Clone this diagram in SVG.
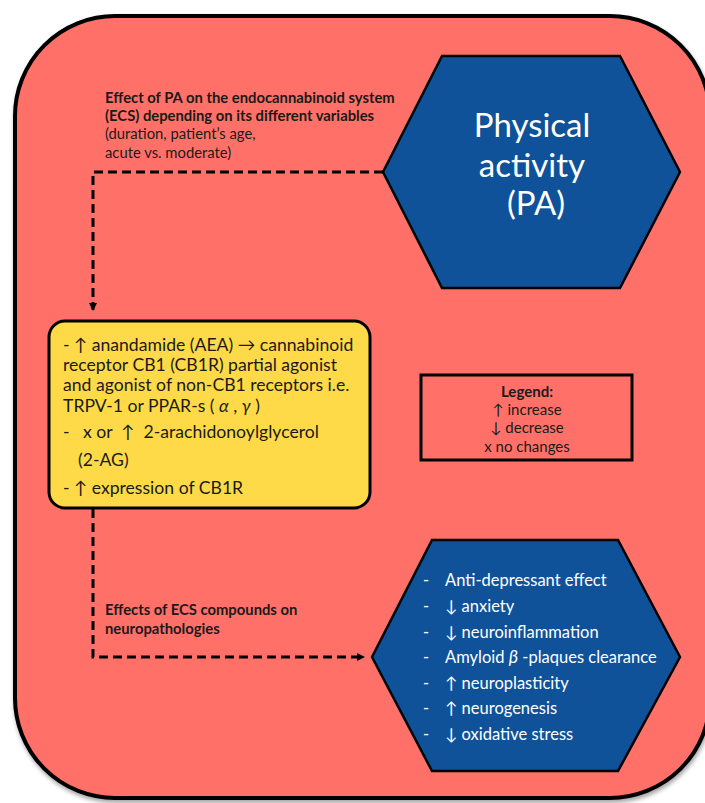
<svg xmlns="http://www.w3.org/2000/svg" width="705" height="803" viewBox="0 0 705 803">
<style>
text{font-family:Lato,"Open Sans","DejaVu Sans",sans-serif}
.lbl{font-size:14.8px;font-weight:bold;fill:#1a1a1a}
.lblr{font-size:14.8px;fill:#1a1a1a}
.hexw{fill:#ffffff}
.yt{font-size:17.6px;fill:#1a1a1a}
.leg{font-size:15px;fill:#1a1a1a;text-anchor:middle}
.bt{font-size:16.5px;fill:#ffffff}
.conn{fill:none;stroke:#000;stroke-width:3;stroke-dasharray:9 5}
.hex{fill:#0F5299;stroke:#000;stroke-width:2.5}
</style>
<defs>
<marker id="ah" markerWidth="8" markerHeight="8" refX="7" refY="4" orient="auto" markerUnits="userSpaceOnUse">
<path d="M0,0 L8,4 L0,8 Z" fill="#000"/>
</marker>
<filter id="sh" x="-5%" y="-5%" width="110%" height="110%">
<feDropShadow dx="1" dy="3" stdDeviation="2" flood-color="#000" flood-opacity="0.35"/>
</filter>
</defs>
<g id="background">
<rect x="15" y="16" width="695" height="782" rx="100" ry="100" fill="#FF7168" stroke="#000" stroke-width="4" filter="url(#sh)"/>
</g>
<g id="connectors">
<path class="conn" d="M383,172 H93 V310" marker-end="url(#ah)"/>
<path class="conn" d="M93,509 V657 H364" marker-end="url(#ah)"/>
</g>
<g id="label-top">
<text class="lbl" x="105" y="103">Effect of PA on the endocannabinoid system</text>
<text class="lbl" x="105" y="121">(ECS) depending on its different variables</text>
<text class="lblr" x="105" y="139">(duration, patient’s age,</text>
<text class="lblr" x="105" y="158">acute vs. moderate)</text>
</g>
<g id="label-bottom">
<text class="lbl" x="105" y="615">Effects of ECS compounds on</text>
<text class="lbl" x="105" y="634">neuropathologies</text>
</g>
<g id="pa">
<polygon class="hex" points="442,56 620,56 680,172 620,288 442,288 383,172"/>
<text class="hexw" x="532" y="137" font-size="33" text-anchor="middle">Physical</text>
<text class="hexw" x="532" y="177" font-size="33" text-anchor="middle">activity</text>
<text class="hexw" x="536" y="215" font-size="33" text-anchor="middle">(PA)</text>
</g>
<g id="ecs">
<rect x="49" y="321" width="321" height="187" rx="16" ry="16" fill="#FEDA48" stroke="#000" stroke-width="3"/>
<text class="yt" x="63" y="351">- ↑ anandamide (AEA) → cannabinoid</text>
<text class="yt" x="63" y="371">receptor CB1 (CB1R) partial agonist</text>
<text class="yt" x="63" y="391">and agonist of non-CB1 receptors i.e.</text>
<text class="yt" x="63" y="412">TRPV-1 or PPAR-s ( <tspan font-style="italic">α</tspan> , <tspan font-style="italic">γ</tspan> )</text>
<text class="yt" x="63" y="438" xml:space="preserve">-   x or  ↑  2-arachidonoylglycerol</text>
<text class="yt" x="78" y="466">(2-AG)</text>
<text class="yt" x="63" y="494">- ↑ expression of CB1R</text>
</g>
<g id="legend">
<rect x="421" y="375" width="211" height="85" fill="none" stroke="#000" stroke-width="3"/>
<text class="leg" x="527" y="397" font-weight="bold">Legend:</text>
<text class="leg" x="527" y="415">↑ increase</text>
<text class="leg" x="527" y="433">↓ decrease</text>
<text class="leg" x="527" y="452">x no changes</text>
</g>
<g id="effects">
<polygon class="hex" points="432,540 618,540 680,657 618,771 432,771 372,657"/>
<text class="bt" x="423" y="586">-</text><text class="bt" x="445" y="586">Anti-depressant effect</text>
<text class="bt" x="423" y="612">-</text><text class="bt" x="445" y="612">↓ anxiety</text>
<text class="bt" x="423" y="638">-</text><text class="bt" x="445" y="638">↓ neuroinflammation</text>
<text class="bt" x="423" y="663">-</text><text class="bt" x="445" y="663">Amyloid <tspan font-style="italic" font-size="18">β</tspan> -plaques clearance</text>
<text class="bt" x="423" y="689">-</text><text class="bt" x="445" y="689">↑ neuroplasticity</text>
<text class="bt" x="423" y="714">-</text><text class="bt" x="445" y="714">↑ neurogenesis</text>
<text class="bt" x="423" y="740">-</text><text class="bt" x="445" y="740">↓ oxidative stress</text>
</g>
</svg>
